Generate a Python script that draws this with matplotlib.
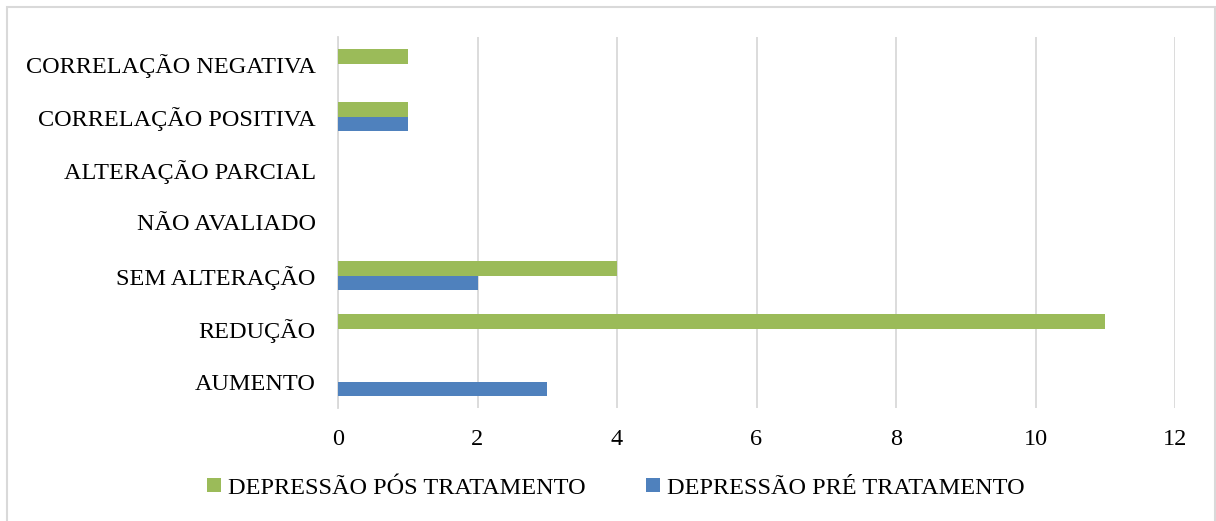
import numpy as np
import matplotlib.pyplot as plt
from matplotlib.patches import Rectangle

# Categorias (de baixo para cima, como no Excel)
categorias = ['AUMENTO', 'REDUÇÃO', 'SEM ALTERAÇÃO', 'NÃO AVALIADO',
              'ALTERAÇÃO PARCIAL', 'CORRELAÇÃO POSITIVA', 'CORRELAÇÃO NEGATIVA']
pre_tratamento = [3, 0, 2, 0, 0, 1, 0]
pos_tratamento = [0, 11, 4, 0, 0, 1, 1]
xticks = [0, 2, 4, 6, 8, 10, 12]

azul = '#4F81BD'
verde = '#9BBB59'
cinza = '#D9D9D9'

plt.rcParams['font.family'] = ['Liberation Serif', 'DejaVu Serif']

fig = plt.figure(figsize=(12.16, 5.21), dpi=100)
ax = fig.add_axes([338 / 1216, 1 - 408 / 521, (1175 - 338) / 1216, (408 - 37) / 521])

y = np.arange(len(categorias))
h = 0.265
ax.barh(y - h / 2, pre_tratamento, height=h, color=azul, label='DEPRESSÃO PRÉ TRATAMENTO', zorder=3)
ax.barh(y + h / 2, pos_tratamento, height=h, color=verde, label='DEPRESSÃO PÓS TRATAMENTO', zorder=3)

ax.set_xlim(0, 12)
ax.set_ylim(-0.5, len(categorias) - 0.5)
ax.set_xticks(xticks)
ax.set_yticks(y)
ax.set_yticklabels(categorias)
ax.tick_params(axis='both', length=0, labelsize=17.5)
ax.tick_params(axis='x', pad=15)
ax.tick_params(axis='y', pad=16)

ax.grid(axis='x', color=cinza, linewidth=1.3, zorder=0)
for lado in ['top', 'right', 'bottom']:
    ax.spines[lado].set_visible(False)
ax.spines['left'].set_color(cinza)
ax.spines['left'].set_linewidth(1.3)

# legenda abaixo do gráfico: pós primeiro, depois pré
handles, labels = ax.get_legend_handles_labels()
fig.legend(handles[::-1], labels[::-1], loc='center', bbox_to_anchor=(0.5065, 1 - 488 / 521),
           ncol=2, frameon=False, fontsize=17.5, handlelength=0.55, handleheight=0.55,
           handletextpad=0.3, columnspacing=2.5)

# moldura da área do gráfico
fig.patches.append(Rectangle((7 / 1216, -0.05), (1215 - 7) / 1216, 1.05 - 7 / 521,
                             transform=fig.transFigure, fill=False, edgecolor=cinza, linewidth=1.5))

fig.savefig('out.png', dpi=100)
